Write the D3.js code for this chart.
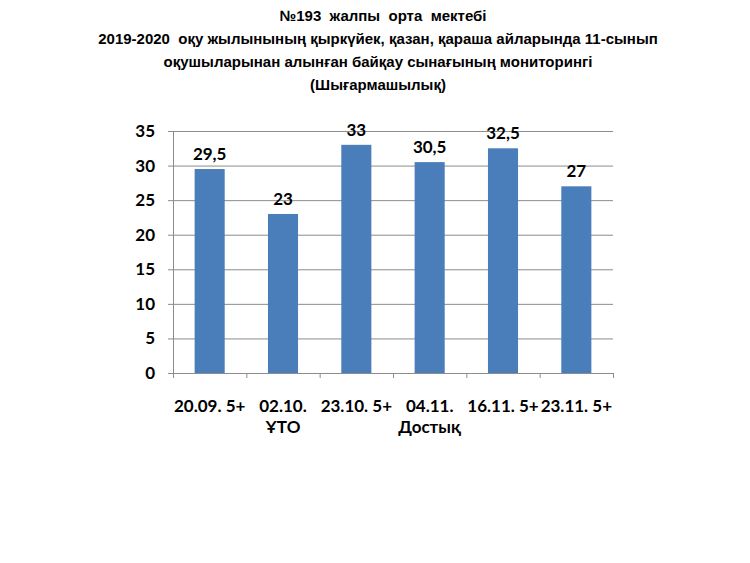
<!DOCTYPE html>
<html>
<head>
<meta charset="utf-8">
<script src="https://cdn.jsdelivr.net/npm/d3@7"></script>
<style>
  body { margin: 0; background: #fff; }
  .title { font-family: "Liberation Sans", Arial, sans-serif; font-weight: bold; font-size: 15px; fill: #000; }
  .lbl { font-family: Lato, "Open Sans", sans-serif; font-weight: bold; font-size: 17px; fill: #000; }
</style>
</head>
<body>
<svg width="750" height="563"></svg>
<script>
var titleLines = [
  "№193  жалпы  орта  мектебі",
  "2019-2020  оқу жылынының қыркүйек, қазан, қараша айларында 11-сынып",
  "оқушыларынан алынған байқау сынағының мониторингі",
  "(Шығармашылық)"
];
var categories = [["20.09. 5+"], ["02.10.", "ҰТО"], ["23.10. 5+"], ["04.11.", "Достық"], ["16.11. 5+"], ["23.11. 5+"]];
var values = [29.5, 23, 33, 30.5, 32.5, 27];
var yTicks = [0, 5, 10, 15, 20, 25, 30, 35];

var svg = d3.select("svg"),
  margin = {top: 131, right: 137, bottom: 190, left: 173},
  width = +svg.attr("width") - margin.left - margin.right,
  height = +svg.attr("height") - margin.top - margin.bottom,
  g = svg.append("g").attr("transform", "translate(" + margin.left + "," + margin.top + ")");

// title
svg.append("g").selectAll("text")
  .data(titleLines)
  .enter().append("text")
  .attr("class", "title")
  .attr("x", function(d, i) { return i == 0 ? 383 : 378; })
  .attr("y", function(d, i) { return 21 + i * 23; })
  .attr("text-anchor", "middle")
  .style("white-space", "pre")
  .text(function(d) { return d; });

var idx = d3.range(values.length);
var x = d3.scaleBand().domain(idx).range([0, width]).paddingInner(0.59).paddingOuter(0.295);
var xb = d3.scaleBand().domain(idx).range([0, width]);
var y = d3.scaleLinear().domain([0, 35]).range([height, 0]);

// gridlines
g.append("g").selectAll("line")
  .data(yTicks.slice(1))
  .enter().append("line")
  .attr("x1", 0).attr("x2", width)
  .attr("y1", function(d) { return y(d) + 0.5; })
  .attr("y2", function(d) { return y(d) + 0.5; })
  .attr("stroke", "#8c8c8c").attr("stroke-width", 1);

// y axis
var yAxis = g.append("g")
  .call(d3.axisLeft(y).tickValues(yTicks).tickSize(5).tickPadding(13));
yAxis.select(".domain").attr("stroke", "#8c8c8c");
yAxis.selectAll(".tick line").attr("stroke", "#8c8c8c");
yAxis.selectAll("text").attr("class", "lbl").attr("fill", null).attr("font-size", null).attr("font-family", null);
yAxis.attr("font-size", null).attr("font-family", null);

// bars
g.selectAll("rect.bar")
  .data(values)
  .enter().append("rect")
  .attr("class", "bar")
  .attr("x", function(d, i) { return x(i); })
  .attr("width", x.bandwidth())
  .attr("y", function(d) { return y(d); })
  .attr("height", function(d) { return height - y(d); })
  .attr("fill", "#4a7ebb");

// value labels
g.selectAll("text.val")
  .data(values)
  .enter().append("text")
  .attr("class", "lbl")
  .attr("x", function(d, i) { return x(i) + x.bandwidth() / 2; })
  .attr("y", function(d) { return y(d) - 9; })
  .attr("text-anchor", "middle")
  .text(function(d) { return String(d).replace(".", ","); });

// x axis
var xAxis = g.append("g")
  .attr("transform", "translate(0," + height + ")");
xAxis.append("line")
  .attr("x1", 0).attr("x2", width).attr("y1", 0.5).attr("y2", 0.5)
  .attr("stroke", "#8c8c8c");
xAxis.selectAll("line.tk")
  .data(d3.range(values.length + 1))
  .enter().append("line")
  .attr("class", "tk")
  .attr("x1", function(d) { return d * xb.bandwidth() + 0.5; })
  .attr("x2", function(d) { return d * xb.bandwidth() + 0.5; })
  .attr("y1", 0).attr("y2", 5)
  .attr("stroke", "#8c8c8c");
var xl = xAxis.selectAll("text.xl")
  .data(categories)
  .enter().append("text")
  .attr("class", "lbl")
  .attr("text-anchor", "middle")
  .attr("transform", function(d, i) { return "translate(" + (xb(i) + xb.bandwidth() / 2) + ",39)"; });
xl.selectAll("tspan")
  .data(function(d) { return d; })
  .enter().append("tspan")
  .attr("x", 0)
  .attr("dy", function(d, j) { return j == 0 ? 0 : 21; })
  .text(function(d) { return d; });
</script>
</body>
</html>
